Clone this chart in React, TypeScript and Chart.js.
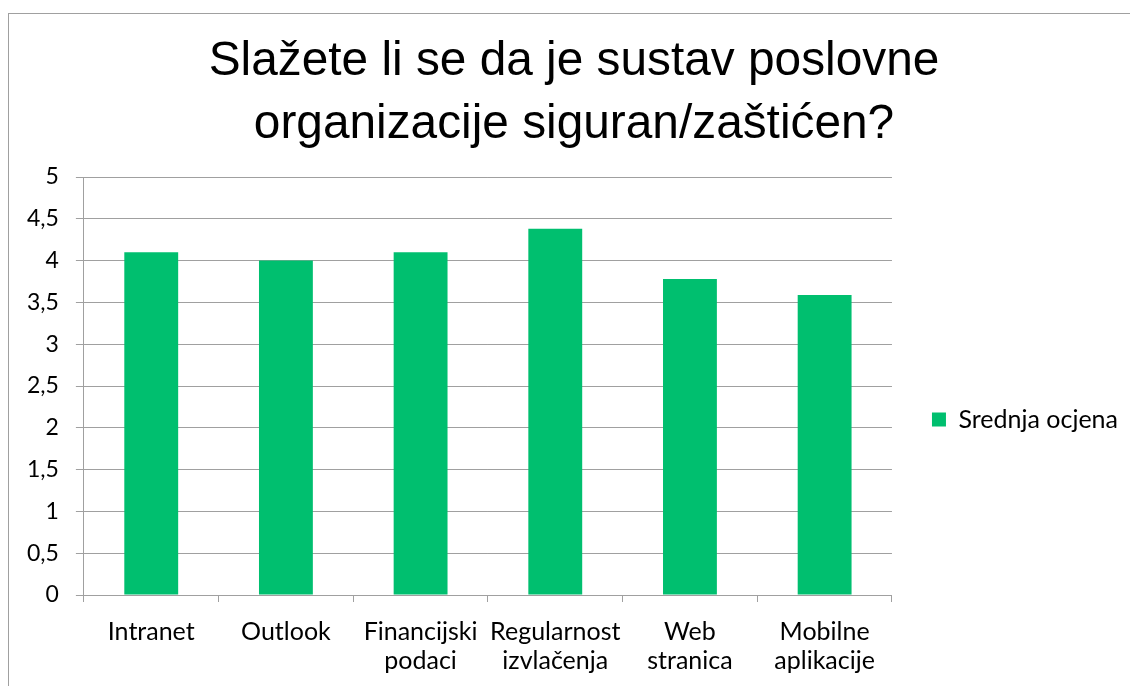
import React, { useEffect, useRef } from 'react';
import { Chart, registerables } from 'chart.js';

Chart.register(...registerables);

const titleLines = ['Slažete li se da je sustav poslovne', 'organizacije siguran/zaštićen?'];
const categories: (string | string[])[] = [
  'Intranet',
  'Outlook',
  ['Financijski', 'podaci'],
  ['Regularnost', 'izvlačenja'],
  ['Web', 'stranica'],
  ['Mobilne', 'aplikacije'],
];
const seriesName = 'Srednja ocjena';
const seriesValues = [4.1, 4.0, 4.1, 4.38, 3.78, 3.59];
const yMin = 0;
const yMax = 5;
const yStep = 0.5;

const BAR = '#00BF6F';
const GRID = '#a0a0a0';

export default function App() {
  const ref = useRef<HTMLCanvasElement | null>(null);

  useEffect(() => {
    document.documentElement.style.overflow = 'hidden';
    document.body.style.overflow = 'hidden';
    if (!ref.current) return;
    const chart = new Chart(ref.current, {
      type: 'bar',
      data: {
        labels: categories,
        datasets: [
          {
            label: seriesName,
            data: seriesValues,
            backgroundColor: BAR,
            borderWidth: 0,
            barPercentage: 0.4,
            categoryPercentage: 1,
          },
        ],
      },
      options: {
        animation: false,
        responsive: true,
        maintainAspectRatio: false,
        layout: { padding: { left: 11, right: 15, top: 0, bottom: 0 } },
        plugins: {
          tooltip: { enabled: false },
          title: {
            display: true,
            text: titleLines,
            color: '#000',
            font: { family: '"Liberation Sans", Arial, sans-serif', size: 47.8, weight: 'normal', lineHeight: 1.318 },
            padding: { top: 16, bottom: 21 },
          },
          legend: {
            position: 'right',
            fullSize: false,
            align: 'center',
            title: { display: true, text: '', font: { size: 1, lineHeight: 1 }, padding: { top: 66, bottom: 0 } },
            labels: {
              boxWidth: 14,
              boxHeight: 14,
              padding: 40,
              color: '#000',
              font: { family: 'Lato, sans-serif', size: 25 },
            },
          },
        },
        scales: {
          x: {
            offset: true,
            grid: { offset: true, drawOnChartArea: false, drawTicks: true, tickLength: 7, color: GRID },
            border: { display: true, color: GRID },
            ticks: {
              color: '#000',
              padding: 15,
              maxRotation: 0,
              autoSkip: false,
              font: { family: 'Lato, sans-serif', size: 25, lineHeight: 1.16 },
            },
          },
          y: {
            min: yMin,
            max: yMax,
            afterFit: (scale: any) => {
              scale.width = scale.width - 10;
            },
            grid: { color: GRID, tickLength: 8, drawTicks: true },
            border: { display: true, color: GRID },
            ticks: {
              stepSize: yStep,
              color: '#000',
              padding: 17,
              font: { family: 'Lato, sans-serif', size: 23 },
              callback: (v: any) => String(v).replace('.', ','),
            },
          },
        },
      },
    });
    return () => chart.destroy();
  }, []);

  return (
    <div
      style={{
        position: 'absolute',
        left: 8,
        top: 13,
        width: 1140,
        height: 690,
        border: '1px solid #a0a0a0',
        background: '#fff',
      }}
    >
      <div style={{ position: 'relative', width: 1134, height: 676 }}>
        <canvas ref={ref} />
      </div>
    </div>
  );
}
